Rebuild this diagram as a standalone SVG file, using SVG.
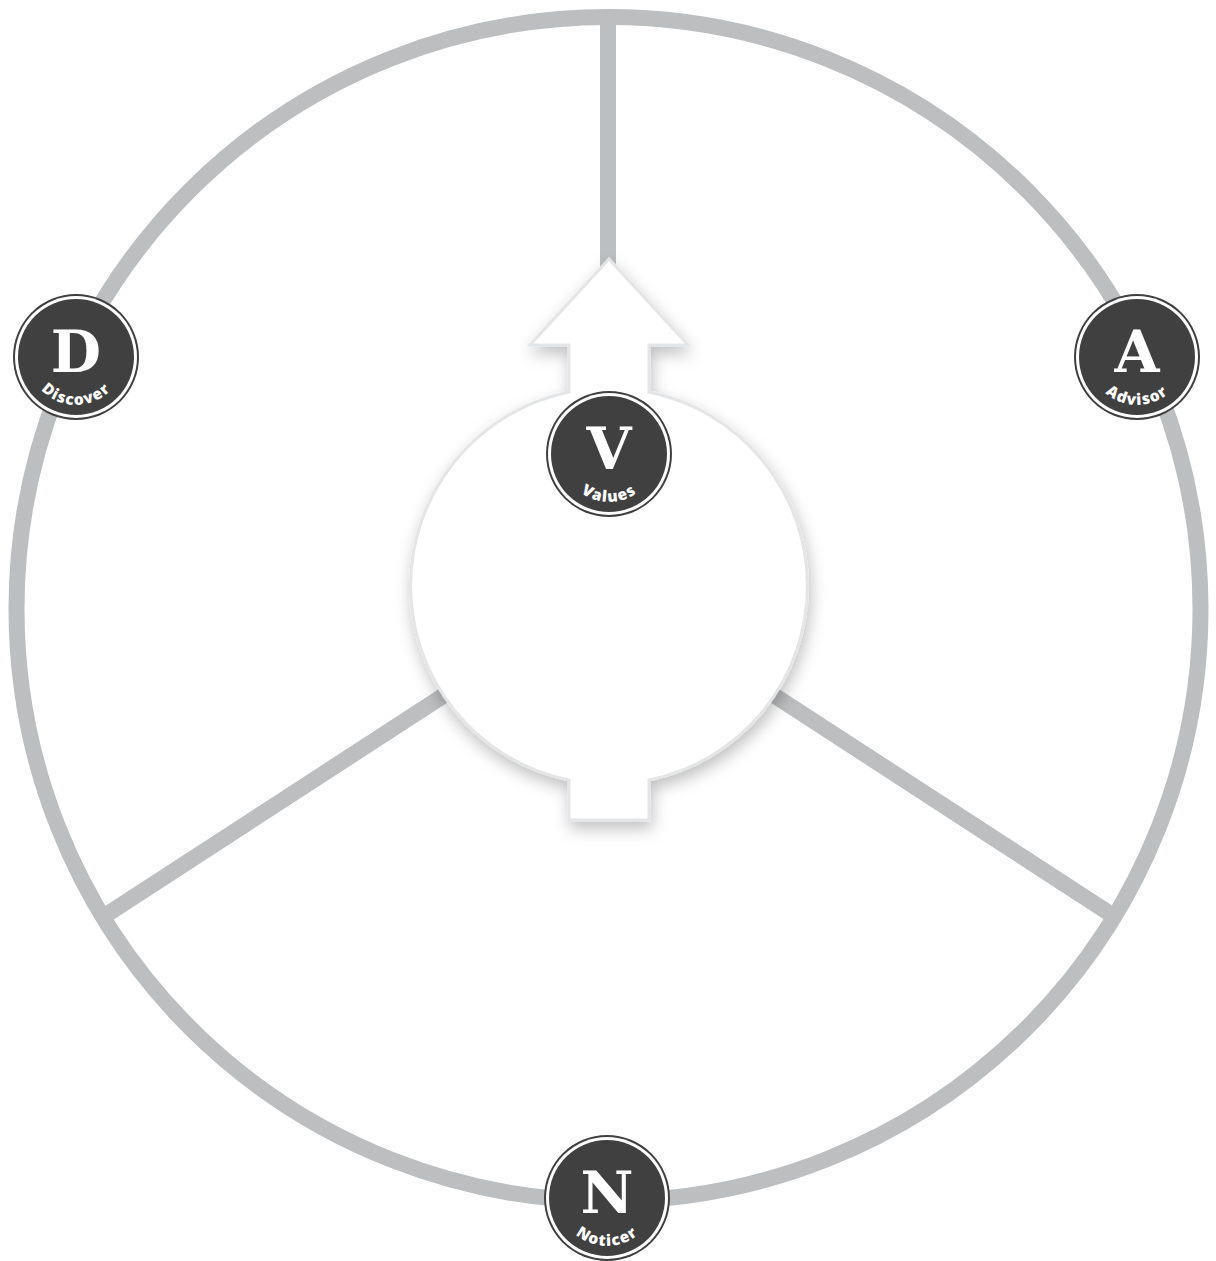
<svg xmlns="http://www.w3.org/2000/svg" width="1216" height="1261" viewBox="0 0 1216 1261">
  <style>
    .ring { fill: none; stroke: #bcbec0; stroke-width: 16; }
    .spoke { stroke: #bcbec0; stroke-width: 16; stroke-linecap: butt; }
    .hub { fill: #ffffff; stroke: #e4e5e7; stroke-width: 3; filter: url(#shadow); }
    .b-out { fill: #404041; }
    .b-gap { fill: #ffffff; }
    .b-in { fill: #404041; }
    .letter { font-family: "DejaVu Serif", "Liberation Serif", serif; font-weight: bold; font-size: 58px; fill: #ffffff; text-anchor: middle; }
    .label { font-family: "Open Sans", "DejaVu Sans", sans-serif; font-weight: 800; font-size: 15.5px; fill: #ffffff; letter-spacing: 1.2px; }
  </style>
  <defs>
    <filter id="shadow" x="-30%" y="-30%" width="160%" height="160%">
      <feDropShadow dx="2" dy="7" stdDeviation="8" flood-color="#000000" flood-opacity="0.25"/>
    </filter>
    <path id="arc" d="M -48 0 A 48 48 0 0 0 48 0"/>
    <g id="badgeBase">
      <circle r="63" class="b-out"/>
      <circle r="61" class="b-gap"/>
      <circle r="58" class="b-in"/>
    </g>
  </defs>

  <rect width="1216" height="1261" fill="#ffffff"/>

  <g id="connectors">
    <circle class="ring" cx="608.5" cy="609" r="592"/>
    <line class="spoke" x1="608" y1="17" x2="608" y2="280"/>
    <line class="spoke" x1="609" y1="588" x2="106" y2="915"/>
    <line class="spoke" x1="609" y1="588" x2="1112" y2="915"/>
  </g>

  <g id="hub">
    <path class="hub" d="M 649 392 A 198 198 0 0 1 649 780 L 649 820 L 569 820 L 569 780 A 198 198 0 0 1 569 392 L 569 345 L 530 345 L 609 259 L 688 345 L 649 345 Z"/>
  </g>

  <g id="node-discover" transform="translate(76 357)">
    <use href="#badgeBase"/>
    <text class="letter" x="0" y="15">D</text>
    <text class="label"><textPath href="#arc" startOffset="50%" text-anchor="middle">Discover</textPath></text>
  </g>

  <g id="node-advisor" transform="translate(1137 357)">
    <use href="#badgeBase"/>
    <text class="letter" x="0" y="15">A</text>
    <text class="label"><textPath href="#arc" startOffset="50%" text-anchor="middle">Advisor</textPath></text>
  </g>

  <g id="node-values" transform="translate(609 454)">
    <use href="#badgeBase"/>
    <text class="letter" x="0" y="15">V</text>
    <text class="label"><textPath href="#arc" startOffset="50%" text-anchor="middle">Values</textPath></text>
  </g>

  <g id="node-noticer" transform="translate(607 1198)">
    <use href="#badgeBase"/>
    <text class="letter" x="0" y="15">N</text>
    <text class="label"><textPath href="#arc" startOffset="50%" text-anchor="middle">Noticer</textPath></text>
  </g>
</svg>
